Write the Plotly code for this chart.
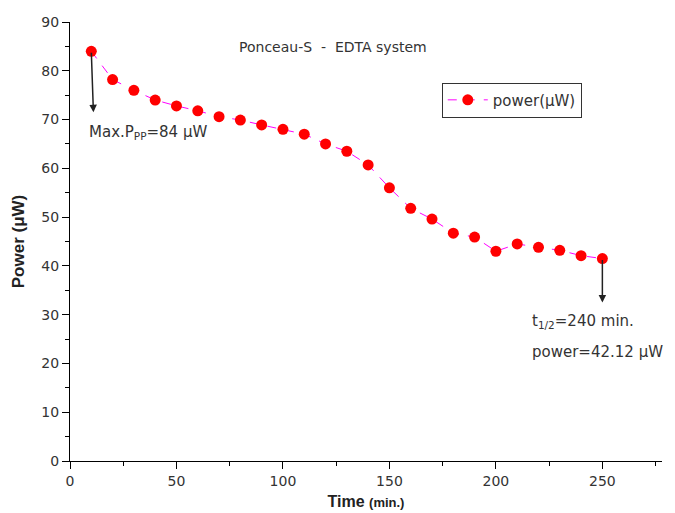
import plotly.graph_objects as go

time_min = [10, 20, 30, 40, 50, 60, 70, 80, 90, 100, 110, 120, 130, 140, 150,
            160, 170, 180, 190, 200, 210, 220, 230, 240, 250]
power_uw = [84.0, 78.2, 76.0, 74.0, 72.8, 71.8, 70.6, 69.9, 68.9, 68.0, 67.0, 65.0,
            63.5, 60.7, 56.0, 51.8, 49.6, 46.7, 45.9, 43.0, 44.5, 43.8, 43.2, 42.1, 41.5]

FONT = "DejaVu Sans, Arial, sans-serif"
BFONT = "Liberation Sans, Arial, sans-serif"

fig = go.Figure()
fig.add_trace(go.Scatter(
    x=time_min, y=power_uw, mode="lines+markers", name="power(μW)",
    line=dict(color="#FF00FF", width=1, dash="dash"),
    marker=dict(color="#FF0000", size=11, symbol="circle"),
))

# arrows
fig.add_annotation(x=11, y=71.5, ax=10, ay=84, xref="x", yref="y", axref="x", ayref="y",
                   text="", showarrow=True, arrowhead=2, arrowsize=1, arrowwidth=1.5,
                   arrowcolor="#222222")
fig.add_annotation(x=250, y=32.5, ax=250, ay=41.5, xref="x", yref="y", axref="x", ayref="y",
                   text="", showarrow=True, arrowhead=2, arrowsize=1, arrowwidth=1.5,
                   arrowcolor="#222222")

fig.add_annotation(x=8, y=67.3, xref="x", yref="y", xanchor="left", yanchor="middle",
                   text="Max.P<sub>PP</sub>=84 μW", showarrow=False,
                   font=dict(family=FONT, size=15, color="#333333"))
fig.add_annotation(x=216, y=28.5, xref="x", yref="y", xanchor="left", yanchor="middle",
                   text="t<sub>1/2</sub>=240 min.", showarrow=False,
                   font=dict(family=FONT, size=15, color="#333333"))
fig.add_annotation(x=216, y=22.3, xref="x", yref="y", xanchor="left", yanchor="middle",
                   text="power=42.12 μW", showarrow=False,
                   font=dict(family=FONT, size=15, color="#333333"))
fig.add_annotation(x=0.445, y=0.943, xref="paper", yref="paper", xanchor="center", yanchor="middle",
                   text="Ponceau-S  -  EDTA system", showarrow=False,
                   font=dict(family=FONT, size=14, color="#333333"))

fig.update_layout(
    width=675, height=513,
    margin=dict(l=70, r=13, t=22, b=52),
    paper_bgcolor="white", plot_bgcolor="white",
    font=dict(family=FONT, size=14, color="#333333"),
    showlegend=True,
    legend=dict(x=0.628, y=0.862, xanchor="left", yanchor="top",
                bordercolor="#333333", borderwidth=1, bgcolor="white",
                font=dict(family=FONT, size=15, color="#333333"),
                itemwidth=40, tracegroupgap=0),
    xaxis=dict(range=[0, 278], tickvals=[0, 50, 100, 150, 200, 250], automargin=False,
               showgrid=False, zeroline=False, showline=True, linecolor="#000000",
               linewidth=1, ticks="outside", ticklen=7, tickcolor="#000000",
               tickfont=dict(family=FONT, size=14, color="#333333"),
               minor=dict(ticks="outside", ticklen=4, dtick=25, tick0=0, tickcolor="#000000"),
               title=dict(text="<b>Time <span style='font-size:13px'>(min.)</span></b>",
                          font=dict(family=BFONT, size=16, color="#222222"), standoff=8)),
    yaxis=dict(range=[0, 90], tickvals=[0, 10, 20, 30, 40, 50, 60, 70, 80, 90], automargin=False,
               showgrid=False, zeroline=False, showline=True, linecolor="#000000",
               linewidth=1, ticks="outside", ticklen=7, tickcolor="#000000",
               tickfont=dict(family=FONT, size=14, color="#333333"),
               minor=dict(ticks="outside", ticklen=4, dtick=5, tick0=0, tickcolor="#000000"),
               title=dict(text="<b>Power (μW)</b>",
                          font=dict(family=BFONT, size=17, color="#222222"), standoff=12)),
)

fig.write_html("out.html")
